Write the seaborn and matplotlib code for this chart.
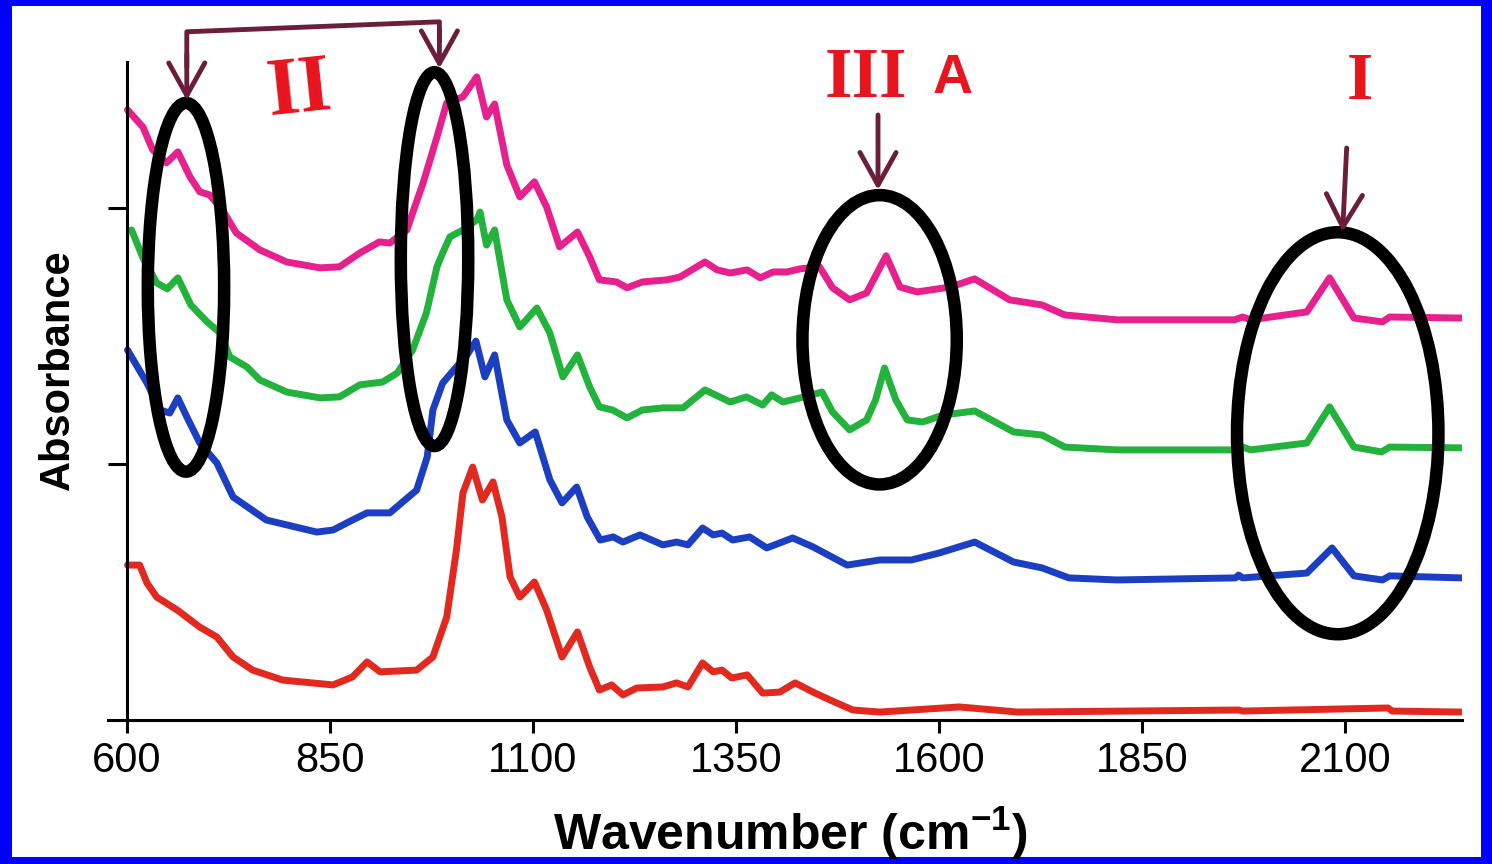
# IR absorbance spectra, stacked, with hand-drawn band annotations (I, II, III A).

import matplotlib
matplotlib.use("Agg")
import matplotlib.pyplot as plt
from matplotlib.patches import Ellipse, Rectangle
import pandas as pd
import seaborn as sns

# ---- data ----
PINK_WN = [601, 620, 632, 649, 663, 678, 690, 702, 718, 735, 764, 797, 838, 862, 887,
           911, 924, 945, 952, 965, 982, 994, 1014, 1031, 1043, 1053, 1068, 1084, 1102,
           1117, 1133, 1155, 1170, 1182, 1203, 1216, 1235, 1265, 1281, 1312, 1327, 1343,
           1364, 1380, 1396, 1413, 1429, 1453, 1469, 1490, 1511, 1535, 1552, 1573, 1614,
           1644, 1687, 1727, 1755, 1819, 1964, 1974, 1984, 2053, 2081, 2111, 2146, 2155, 2243]
PINK_ABS = [2.383, 2.316, 2.227, 2.176, 2.219, 2.121, 2.063, 2.051, 1.992, 1.902, 1.836,
            1.789, 1.766, 1.770, 1.824, 1.867, 1.863, 1.914, 1.980, 2.098, 2.277, 2.410,
            2.434, 2.512, 2.355, 2.406, 2.168, 2.043, 2.102, 2.004, 1.848, 1.906, 1.809,
            1.719, 1.711, 1.688, 1.711, 1.719, 1.730, 1.789, 1.758, 1.746, 1.758, 1.727,
            1.750, 1.750, 1.762, 1.770, 1.688, 1.641, 1.668, 1.813, 1.691, 1.672, 1.691,
            1.723, 1.641, 1.621, 1.582, 1.563, 1.563, 1.574, 1.563, 1.594, 1.727, 1.570,
            1.555, 1.574, 1.570]

GREEN_WN = [606, 620, 637, 650, 663, 679, 699, 715, 727, 748, 764, 797, 838, 862, 887,
            915, 933, 952, 969, 982, 989, 998, 1014, 1031, 1035, 1043, 1053, 1068, 1084,
            1105, 1121, 1137, 1155, 1170, 1182, 1198, 1216, 1235, 1260, 1285, 1312, 1330,
            1343, 1363, 1383, 1394, 1408, 1429, 1456, 1469, 1490, 1511, 1522, 1533, 1547,
            1561, 1580, 1605, 1644, 1692, 1727, 1755, 1819, 1964, 1974, 1984, 2053, 2081,
            2111, 2145, 2155, 2243]
GREEN_ABS = [1.914, 1.805, 1.707, 1.684, 1.727, 1.621, 1.555, 1.512, 1.418, 1.379, 1.328,
             1.281, 1.258, 1.262, 1.309, 1.320, 1.355, 1.445, 1.590, 1.770, 1.824, 1.887,
             1.914, 1.953, 1.984, 1.855, 1.914, 1.641, 1.535, 1.609, 1.512, 1.340, 1.426,
             1.301, 1.223, 1.211, 1.180, 1.211, 1.219, 1.219, 1.289, 1.262, 1.242, 1.262,
             1.230, 1.270, 1.242, 1.258, 1.281, 1.203, 1.133, 1.172, 1.250, 1.375, 1.250,
             1.172, 1.164, 1.191, 1.207, 1.125, 1.113, 1.066, 1.055, 1.055, 1.066, 1.055,
             1.082, 1.223, 1.066, 1.047, 1.066, 1.063]

BLUE_WN = [601, 625, 641, 653, 663, 674, 690, 711, 731, 772, 834, 854, 878, 896, 924,
           957, 970, 977, 989, 1006, 1019, 1030, 1041, 1053, 1068, 1084, 1103, 1121, 1136,
           1154, 1167, 1183, 1199, 1211, 1232, 1260, 1277, 1291, 1309, 1322, 1333, 1346,
           1367, 1388, 1420, 1445, 1487, 1527, 1566, 1600, 1644, 1692, 1727, 1760, 1819,
           1965, 1969, 1974, 2053, 2084, 2111, 2146, 2155, 2243]
BLUE_ABS = [1.445, 1.316, 1.211, 1.199, 1.258, 1.184, 1.082, 1.004, 0.871, 0.781, 0.734,
            0.742, 0.781, 0.809, 0.809, 0.898, 1.027, 1.211, 1.316, 1.379, 1.426, 1.480,
            1.340, 1.426, 1.172, 1.082, 1.125, 0.938, 0.848, 0.910, 0.793, 0.703, 0.715,
            0.695, 0.723, 0.684, 0.695, 0.684, 0.750, 0.723, 0.730, 0.703, 0.715, 0.672,
            0.711, 0.676, 0.605, 0.625, 0.625, 0.652, 0.695, 0.617, 0.594, 0.555, 0.547,
            0.555, 0.566, 0.555, 0.574, 0.672, 0.563, 0.547, 0.563, 0.555]

RED_WN = [601, 616, 625, 637, 662, 690, 711, 731, 755, 792, 854, 878, 896, 912, 957,
          977, 994, 1006, 1014, 1026, 1038, 1051, 1062, 1072, 1084, 1102, 1117, 1136, 1155,
          1170, 1182, 1197, 1211, 1228, 1260, 1277, 1291, 1309, 1322, 1333, 1345, 1364,
          1383, 1404, 1423, 1445, 1466, 1494, 1527, 1625, 1697, 1969, 1974, 2153, 2158, 2243]
RED_ABS = [0.605, 0.605, 0.535, 0.480, 0.430, 0.363, 0.324, 0.246, 0.195, 0.156, 0.137,
           0.168, 0.227, 0.188, 0.195, 0.246, 0.402, 0.664, 0.887, 0.988, 0.859, 0.930,
           0.793, 0.559, 0.480, 0.539, 0.430, 0.246, 0.344, 0.207, 0.117, 0.137, 0.098,
           0.125, 0.129, 0.145, 0.129, 0.223, 0.188, 0.195, 0.164, 0.176, 0.105, 0.109,
           0.145, 0.109, 0.078, 0.039, 0.031, 0.051, 0.031, 0.039, 0.035, 0.047, 0.035,
           0.031]

SAMPLES = ["pink", "green", "blue", "red"]
COLORS = {"pink": "#E6208C", "green": "#23B23C", "blue": "#1C3FC2", "red": "#E2291F"}
XTICKS = [600, 850, 1100, 1350, 1600, 1850, 2100]

MAROON = "#6B1E3A"
NOTE_RED = "#E8141E"


def build_frame():
    parts = []
    for name, wn, ab in zip(SAMPLES,
                            [PINK_WN, GREEN_WN, BLUE_WN, RED_WN],
                            [PINK_ABS, GREEN_ABS, BLUE_ABS, RED_ABS]):
        parts.append(pd.DataFrame({"wavenumber": wn, "absorbance": ab, "sample": name}))
    return pd.concat(parts, ignore_index=True)


def draw_notes(ax):
    # hand-drawn circles around the bands
    for (cx, cy, w, h) in [(673, 1.69, 94, 1.44), (979, 1.80, 83, 1.46),
                           (1527, 1.485, 190, 1.13), (2091, 1.12, 248, 1.57)]:
        ax.add_patch(Ellipse((cx, cy), w, h, fill=False, ec="black", lw=9,
                             clip_on=False, zorder=5))

    # bracket joining the two band-II circles
    ax.plot([674, 674, 985, 985], [2.55, 2.688, 2.727, 2.65], color=MAROON, lw=3.5,
            clip_on=False, zorder=6, solid_capstyle="round", solid_joinstyle="round")
    arrow = dict(arrowstyle="->,head_length=0.9,head_width=0.5", color=MAROON, lw=3.5,
                 mutation_scale=26, shrinkA=0, shrinkB=0)
    for (x0, y0, x1, y1) in [(674, 2.60, 674, 2.42), (985, 2.70, 985, 2.545),
                             (1525, 2.363, 1525, 2.07), (2102, 2.234, 2097, 1.906)]:
        ax.annotate("", xy=(x1, y1), xytext=(x0, y0), arrowprops=arrow,
                    annotation_clip=False, zorder=6)

    serif = dict(family="Liberation Serif", weight="bold", color=NOTE_RED,
                 ha="center", va="baseline", zorder=6)
    ax.text(813, 2.363, "II", fontsize=60, rotation=6, **serif)
    ax.text(1510, 2.434, "III", fontsize=51, **serif)
    ax.text(1617, 2.449, "A", fontsize=40, family="Liberation Sans", weight="bold",
            color=NOTE_RED, ha="center", va="baseline", zorder=6)
    ax.text(2118, 2.426, "I", fontsize=49, **serif)


def main():
    sns.set_theme(style="white")
    plt.rcParams["font.family"] = ["Liberation Sans", "DejaVu Sans"]
    plt.rcParams["mathtext.fontset"] = "custom"
    plt.rcParams["mathtext.rm"] = "Liberation Sans:bold"
    plt.rcParams["mathtext.default"] = "rm"

    df = build_frame()

    fig = plt.figure(figsize=(14.92, 8.64), dpi=100)
    fig.patch.set_facecolor("#0000FF")
    fig.add_artist(Rectangle((12 / 1492, 7 / 864), 1469 / 1492, 851 / 864,
                             transform=fig.transFigure, facecolor="white",
                             edgecolor="none", zorder=-10))
    ax = fig.add_axes([108 / 1492, 144 / 864, 1354 / 1492, 658 / 864])
    ax.set_facecolor("white")

    sns.lineplot(data=df, x="wavenumber", y="absorbance", hue="sample",
                 hue_order=SAMPLES, palette=COLORS, linewidth=5, estimator=None,
                 sort=False, legend=False, ax=ax)

    ax.set_xlim(577, 2244)
    ax.set_ylim(0, 2.57)
    sns.despine(ax=ax)
    ax.spines["left"].set_position(("data", 600))
    for side in ("left", "bottom"):
        ax.spines[side].set_color("black")
        ax.spines[side].set_linewidth(2.2)

    ax.set_xticks(XTICKS)
    ax.set_xticklabels([str(t) for t in XTICKS])
    ax.set_yticks([1, 2])
    ax.tick_params(axis="x", bottom=True, direction="out", length=9, width=2.2,
                   pad=6, labelsize=30, colors="black")
    ax.tick_params(axis="y", left=True, direction="out", length=14, width=2.2,
                   labelleft=False, colors="black")

    ax.set_xlabel(r"Wavenumber (cm$^{-1}$)", fontsize=36, fontweight="bold", color="black")
    ax.xaxis.label.set_va("baseline")
    ax.xaxis.set_label_coords(0.504, -0.198)
    ax.set_ylabel("Absorbance", fontsize=30, fontweight="bold", color="black")
    ax.yaxis.set_label_coords(-0.022, 0.532)

    draw_notes(ax)

    fig.savefig("out.png", dpi=100, facecolor=fig.get_facecolor())


if __name__ == "__main__":
    main()
